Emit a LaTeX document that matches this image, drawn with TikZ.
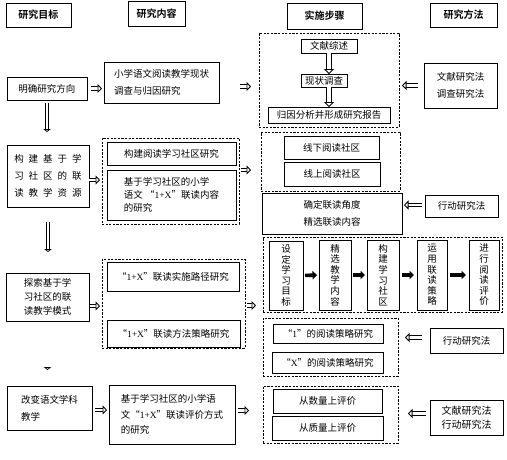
\documentclass[tikz,border=0pt]{standalone}
\usepackage{fontspec}
\setmainfont{Noto Sans CJK SC}[BoldFont={Noto Sans CJK SC Bold}]
\newfontfamily\latinf{Liberation Serif}
\usetikzlibrary{arrows.meta}
\newcommand\onex{{\latinf 1+X}}
\newcommand\gap{\hspace{5pt}}
\begin{document}
\begin{tikzpicture}[x=1pt, y=-1pt, line cap=butt, line join=miter,
    box/.style={draw, line width=0.6pt, inner sep=0pt, outer sep=0pt, anchor=north west, align=center,
      font=\fontsize{9.5}{13}\selectfont},
    grp/.style={box, dashed, dash pattern=on 2.2pt off 1.4pt},
    hd/.style={box, font=\fontsize{10}{12}\selectfont\bfseries},
    sz/.style 2 args={minimum width=#1pt, minimum height=#2pt},
    loose/.style={font=\fontsize{9.5}{17}\selectfont},
    vtxt/.style={font=\fontsize{9.5}{10.6}\selectfont},
    harr/.style={double=white, double distance=2.4pt, line width=0.85pt,
      -{Triangle[open, fill=white, length=4.5pt, width=9pt, line width=0.85pt]}},
    sarr/.style={double=white, double distance=3.4pt, line width=0.85pt,
      -{Triangle[open, fill=white, length=5pt, width=10pt, line width=0.85pt]}},
    varr/.style={double=white, double distance=2.2pt, line width=0.8pt,
      -{Triangle[open, fill=white, length=3pt, width=7.5pt, line width=0.8pt]}},
    barr/.style={line width=3.6pt, -{Triangle[length=4.5pt, width=8.5pt]}}]
  \useasboundingbox (0,0) rectangle (507,459);
  % headers
  \node[hd, sz={65}{24}] (hA) at (6,3) {研究目标};
  \node[hd, sz={57}{25}] (hB) at (128,1) {研究内容};
  \node[hd, sz={75}{26}] (hC) at (287,3) {实施步骤};
  \node[hd, sz={67}{24}] (hD) at (430,3) {研究方法};
  % goals
  \node[box, sz={80}{23}] (g1) at (7,77) {明确研究方向};
  \node[box, sz={82}{62}, font=\fontsize{9.5}{17}\selectfont] (g2) at (7,145)
    {构\gap 建\gap 基\gap 于\gap 学\\习\gap 社\gap 区\gap 的\gap 联\\读\gap 教\gap 学\gap 资\gap 源};
  \node[box, sz={83}{48}, font=\fontsize{9.5}{14}\selectfont] (g3) at (6,273) {探索基于学\\习社区的联\\读教学模式};
  \node[box, sz={85}{44}, align=left, loose] (g4) at (7,386) {改变语文学科\\教学};
  % contents
  \node[box, sz={115}{41}, align=left, loose] (c1) at (104,62) {小学语文阅读教学现状\\调查与归因研究};
  \node[grp, sz={137}{86}] (grpB) at (102,138) {};
  \node[box, sz={129}{23}] (c2a) at (107,142) {构建阅读学习社区研究};
  \node[box, sz={129}{50}, align=left] (c2b) at (107,170) {基于学习社区的小学\\语文 “\onex”联读内容\\的研究};
  \node[grp, sz={143}{89}] (grpD) at (102,259) {};
  \node[box, sz={132}{29}] (c3a) at (107,262) {“\onex”联读实施路径研究};
  \node[box, sz={133}{27}] (c3b) at (107,320) {“\onex”联读方法策略研究};
  \node[box, sz={126}{59}, align=left, font=\fontsize{9.5}{15.5}\selectfont] (c4) at (109,385)
    {基于学习社区的小学语\\文“\onex”联读评价方式\\的研究};
  % steps
  \node[grp, sz={140}{94}] (grpA) at (259,33) {};
  \node[box, sz={56}{14}] (s1) at (301,39) {文献综述};
  \node[box, sz={46}{13}] (s2) at (301,74) {现状调查};
  \node[box, sz={122}{16}] (s3) at (268,107) {归因分析并形成研究报告};
  \node[grp, sz={139}{59}] (grpC) at (261,132) {};
  \node[box, sz={95}{23}] (s4) at (284,136) {线下阅读社区};
  \node[box, sz={96}{24}] (s5) at (284,162) {线上阅读社区};
  \node[box, sz={140}{41}, loose] (s6) at (262,193) {确定联读角度\\精选联读内容};
  \node[grp, sz={239}{75}] (grpE) at (263,237) {};
  \node[box, sz={34}{69}, vtxt] (st1) at (269,241) {设\\定\\学\\习\\目\\标};
  \node[box, sz={32}{70}, vtxt] (st2) at (319,240) {精\\选\\教\\学\\内\\容};
  \node[box, sz={32}{70}, vtxt] (st3) at (367,240) {构\\建\\学\\习\\社\\区};
  \node[box, sz={30}{70}, vtxt] (st4) at (417,240) {运\\用\\联\\读\\策\\略};
  \node[box, sz={30}{70}, vtxt] (st5) at (469,240) {进\\行\\阅\\读\\评\\价};
  \node[grp, sz={135}{58}] (grpF) at (263,318) {};
  \node[box, sz={110}{19}] (s7) at (273,324) {“{\latinf 1}”的阅读策略研究};
  \node[box, sz={111}{21}] (s8) at (272,352) {“{\latinf X}”的阅读策略研究};
  \node[grp, sz={135}{57}] (grpG) at (263,386) {};
  \node[box, sz={109}{24}] (s9) at (273,389) {从数量上评价};
  \node[box, sz={111}{24}] (s10) at (272,416) {从质量上评价};
  % methods
  \node[box, sz={73}{45}, align=left, loose] (m1) at (424,63) {文献研究法\\调查研究法};
  \node[box, sz={73}{22}] (m2) at (425,195) {行动研究法};
  \node[box, sz={73}{25}] (m3) at (430,328) {行动研究法};
  \node[box, sz={73}{35}, font=\fontsize{10}{14}\selectfont] (m4) at (430,400) {文献研究法\\行动研究法};
  % goals down
  \draw[varr, shorten <=3pt, shorten >=13pt] (g1.south) -- (g1.south |- g2.north);
  \draw[varr, shorten <=15pt, shorten >=21pt] (g2.south) -- (g2.south |- g3.north);
  \draw[varr, shorten <=17pt, shorten >=16pt] (g3.south) -- (g3.south |- g4.north);
  % goals to contents
  \draw[harr, shorten <=4pt, shorten >=2pt] (g1.east) -- (g1.east -| c1.west);
  \draw[harr, shorten >=2pt] ([yshift=-4pt]g2.east) -- ([yshift=-4pt]g2.east -| grpB.west);
  \draw[harr, shorten <=1pt, shorten >=2pt] ([yshift=-9pt]g3.east) -- ([yshift=-9pt]g3.east -| grpD.west);
  \draw[harr, shorten <=3pt, shorten >=2pt] ([yshift=-2pt]g4.east) -- ([yshift=-2pt]g4.east -| c4.west);
  % contents to steps
  \draw[harr, shorten <=21pt, shorten >=8pt] ([yshift=-4pt]c1.east) -- ([yshift=-4pt]c1.east -| grpA.west);
  \draw[harr, shorten <=2pt, shorten >=10pt] ([yshift=11pt]grpB.east) -- ([yshift=11pt]grpB.east -| grpC.west);
  \draw[harr, shorten <=2pt, shorten >=7pt] ([yshift=-2pt]grpD.east) -- ([yshift=-2pt]grpD.east -| grpE.west);
  \draw[harr, shorten <=3pt, shorten >=14pt] ([yshift=4pt]c4.east) -- ([yshift=4pt]c4.east -| grpG.west);
  % inside steps
  \draw[sarr] (s1) -- (s1 |- s2.north);
  \draw[sarr] (s1 |- s2.south) -- (s1 |- s3.north);
  \draw[barr, shorten <=2pt, shorten >=2pt] (st1.east) -- (st2.west);
  \draw[barr, shorten <=2pt, shorten >=2pt] (st2.east) -- (st3.west);
  \draw[barr, shorten <=3pt, shorten >=3pt] (st3.east) -- (st4.west);
  \draw[barr, shorten <=3pt, shorten >=3pt] (st4.east) -- (st5.west);
  % methods to steps
  \draw[harr, shorten <=6pt, shorten >=3pt] (m1.west) -- (m1.west -| grpA.east);
  \draw[harr, shorten <=3pt, shorten >=2pt] ([yshift=1pt]m2.west) -- ([yshift=1pt]m2.west -| s6.east);
  \draw[harr, shorten <=8pt, shorten >=7pt] ([yshift=3pt]m3.west) -- ([yshift=3pt]m3.west -| grpF.east);
  \draw[harr, shorten <=4pt, shorten >=10pt] ([yshift=4pt]m4.west) -- ([yshift=4pt]m4.west -| grpG.east);
\end{tikzpicture}
\end{document}
